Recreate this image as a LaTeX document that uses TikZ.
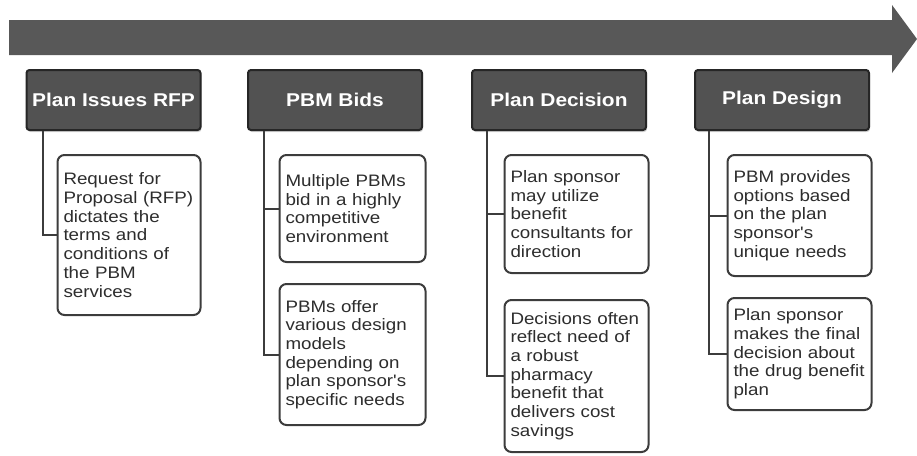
\documentclass[tikz,border=0pt]{standalone}
\usepackage{fontspec}
\setmainfont{Liberation Sans}
\newfontfamily\boxfont[FakeStretch=1.13]{Liberation Sans}
\usetikzlibrary{shadows}
\definecolor{arrowc}{RGB}{88,88,88}
\definecolor{headfill}{RGB}{82,82,82}
\definecolor{headdraw}{RGB}{38,38,38}
\definecolor{linec}{RGB}{60,60,60}
\definecolor{txtc}{RGB}{45,45,45}
\tikzset{
  x=1pt, y=-1pt,
  header/.style={draw=headdraw, fill=headfill, line width=2pt, rounded corners=3pt,
    minimum width=174pt, minimum height=60pt, inner sep=0pt,
    text=white, font=\boxfont\bfseries\fontsize{18.5}{20}\selectfont,
    drop shadow={shadow xshift=1pt, shadow yshift=-2pt, opacity=0.35}},
  detail/.style={draw=linec, fill=white, line width=2pt, rounded corners=7pt,
    inner xsep=6pt, inner ysep=0pt, align=left, text=txtc,
    font=\boxfont\fontsize{16.6}{18.7}\selectfont},
  conn/.style={draw=linec, line width=2pt},
}
\begin{document}
\begin{tikzpicture}
\useasboundingbox (0,0) rectangle (917,455);
% timeline arrow
\fill[arrowc] (9,20) -- (892,20) -- (892,5) -- (917,39) -- (892,73) -- (892,55) -- (9,55) -- cycle;
% headers
\node[header] (h1) at (113.5,100) {Plan Issues RFP};
\node[header] (h2) at (335,100) {PBM Bids};
\node[header] (h3) at (559,100) {Plan Decision};
\node[header] (h4) at (782,100) {Plan Design};
% details
\node[detail, text width=131pt, minimum height=160pt] (d1) at (129,235)
  {Request for\\Proposal (RFP)\\dictates the\\terms and\\conditions of\\the PBM\\services};
\node[detail, text width=134pt, minimum height=107pt] (d2a) at (352.5,208.5)
  {Multiple PBMs\\bid in a highly\\competitive\\environment};
\node[detail, text width=134pt, minimum height=141pt] (d2b) at (352.5,354.5)
  {PBMs offer\\various design\\models\\depending on\\plan sponsor's\\specific needs};
\node[detail, text width=132pt, minimum height=118pt] (d3a) at (576.5,214)
  {Plan sponsor\\may utilize\\benefit\\consultants for\\direction};
\node[detail, text width=132pt, minimum height=152pt] (d3b) at (576.5,376)
  {Decisions often\\reflect need of\\a robust\\pharmacy\\benefit that\\delivers cost\\savings};
\node[detail, text width=132pt, minimum height=121pt] (d4a) at (799.5,215.5)
  {PBM provides\\options based\\on the plan\\sponsor's\\unique needs};
\node[detail, text width=132pt, minimum height=112pt] (d4b) at (799.5,354)
  {Plan sponsor\\makes the final\\decision about\\the drug benefit\\plan};
% connectors
\draw[conn] ([xshift=17pt]h1.south west) |- (d1.west);
\draw[conn] ([xshift=17pt]h2.south west) |- (d2a.west);
\draw[conn] ([xshift=17pt]h2.south west) |- (d2b.west);
\draw[conn] ([xshift=16pt]h3.south west) |- (d3a.west);
\draw[conn] ([xshift=16pt]h3.south west) |- (d3b.west);
\draw[conn] ([xshift=15pt]h4.south west) |- (d4a.west);
\draw[conn] ([xshift=15pt]h4.south west) |- (d4b.west);
\end{tikzpicture}
\end{document}
